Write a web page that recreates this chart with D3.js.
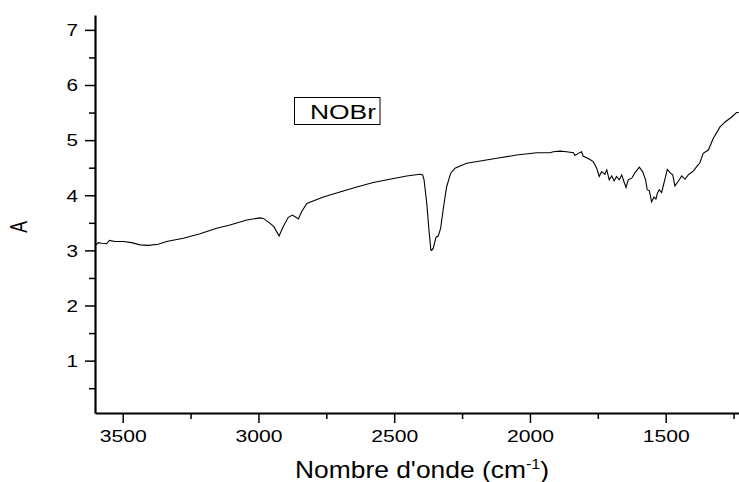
<!DOCTYPE html>
<html lang="fr">
<head>
  <meta charset="UTF-8">
  <title>NOBr - spectre IR</title>
  <script src="https://d3js.org/d3.v7.min.js"></script>
  <style>
    body { margin: 0; background: #fff; }
    text { font-family: "Liberation Sans", Arial, sans-serif; fill: #000; }
    .axis path, .axis line { stroke: #000; }
    .spectrum { fill: none; stroke: #000; stroke-width: 1.1px; }
  </style>
</head>
<body>
  <script>
    // Spectre (nombre d'onde en cm-1, absorbance)
    const wavenumber = [
      3602, 3590, 3577, 3559, 3549, 3528, 3498, 3467, 3436, 3406, 3369, 3338,
      3277, 3215, 3154, 3105, 3043, 2994, 2982, 2957, 2943, 2924, 2909, 2890,
      2875, 2865, 2853, 2841, 2822, 2761, 2700, 2638, 2577, 2516, 2454, 2405,
      2395, 2390, 2380, 2372, 2365, 2362, 2356, 2346, 2338, 2329, 2319, 2307,
      2292, 2276, 2233, 2172, 2110, 2049, 1975, 1926, 1914, 1889, 1865, 1840,
      1834, 1822, 1810, 1804, 1779, 1767, 1754, 1745, 1736, 1724, 1717, 1708,
      1699, 1690, 1681, 1671, 1662, 1654, 1646, 1638, 1625, 1613, 1597, 1585,
      1574, 1568, 1560, 1552, 1543, 1536, 1531, 1524, 1515, 1503, 1494, 1484,
      1474, 1466, 1454, 1441, 1429, 1417, 1398, 1386, 1374, 1362, 1343, 1325,
      1300, 1281, 1257, 1239, 1231
    ];
    const absorbance = [
      3.08, 3.14, 3.13, 3.12, 3.18, 3.16, 3.16, 3.14, 3.10, 3.09, 3.11, 3.16,
      3.22, 3.30, 3.40, 3.46, 3.55, 3.59, 3.58, 3.49, 3.43, 3.26, 3.43, 3.60,
      3.64, 3.61, 3.57, 3.70, 3.85, 3.97, 4.06, 4.15, 4.23, 4.29, 4.35, 4.38,
      4.37, 4.28, 3.85, 3.37, 3.01, 3.00, 3.04, 3.24, 3.26, 3.40, 3.76, 4.15,
      4.40, 4.49, 4.58, 4.63, 4.68, 4.73, 4.77, 4.77, 4.79, 4.80, 4.79, 4.77,
      4.72, 4.76, 4.79, 4.71, 4.65, 4.61, 4.49, 4.34, 4.43, 4.38, 4.46, 4.28,
      4.35, 4.26, 4.34, 4.28, 4.37, 4.25, 4.14, 4.28, 4.31, 4.41, 4.51, 4.43,
      4.28, 4.10, 4.08, 3.88, 3.97, 3.93, 4.03, 4.10, 4.05, 4.29, 4.47, 4.41,
      4.37, 4.17, 4.25, 4.35, 4.29, 4.37, 4.44, 4.52, 4.59, 4.76, 4.82, 5.03,
      5.24, 5.33, 5.42, 5.50, 5.50
    ];
    const xMajor = [3500, 3000, 2500, 2000, 1500];
    const xMinor = [3250, 2750, 2250, 1750, 1250];
    const yMajor = [1, 2, 3, 4, 5, 6, 7];
    const yMinor = [0.5, 1.5, 2.5, 3.5, 4.5, 5.5, 6.5];
    const legendLabel = "NOBr";

    const width = 739, height = 482;
    const mLeft = 95, mRight = 739, mTop = 15, mBottom = 413;

    const svg = d3.select("body").append("svg")
      .attr("width", width)
      .attr("height", height);

    // axe x inversé
    const x = d3.scaleLinear().domain([3602, 1230]).range([mLeft, mRight]);
    const y = d3.scaleLinear().domain([0.05, 7.27]).range([mBottom, mTop]);

    // ticks mineurs d'abord
    svg.append("g")
      .attr("class", "axis")
      .attr("transform", `translate(0,${mBottom})`)
      .call(d3.axisBottom(x).tickValues(xMinor).tickSize(6).tickFormat(""))
      .call(g => g.select(".domain").remove())
      .call(g => g.selectAll("line").attr("stroke-width", 1.5));

    svg.append("g")
      .attr("class", "axis")
      .attr("transform", `translate(${mLeft},0)`)
      .call(d3.axisLeft(y).tickValues(yMinor).tickSize(6).tickFormat(""))
      .call(g => g.select(".domain").remove())
      .call(g => g.selectAll("line").attr("stroke-width", 1.5));

    const xAxis = svg.append("g")
      .attr("class", "axis")
      .attr("transform", `translate(0,${mBottom})`)
      .call(d3.axisBottom(x).tickValues(xMajor).tickSize(10).tickSizeOuter(0).tickFormat(d3.format("d")));
    xAxis.select(".domain").attr("stroke-width", 2.2);
    xAxis.selectAll("line").attr("stroke-width", 1.5);
    xAxis.selectAll("text")
      .attr("y", 28.7).attr("dy", null)
      .style("font-size", "16px")
      .attr("textLength", 47).attr("lengthAdjust", "spacingAndGlyphs");

    const yAxis = svg.append("g")
      .attr("class", "axis")
      .attr("transform", `translate(${mLeft},0)`)
      .call(d3.axisLeft(y).tickValues(yMajor).tickSize(10).tickSizeOuter(0).tickFormat(d3.format("d")));
    yAxis.select(".domain").attr("stroke-width", 2.2);
    yAxis.selectAll("line").attr("stroke-width", 1.5);
    yAxis.selectAll("text")
      .attr("x", -17).attr("dy", "0.36em")
      .style("font-size", "16px")
      .attr("textLength", 11.5).attr("lengthAdjust", "spacingAndGlyphs");

    // spectre
    const points = wavenumber.map((w, i) => [w, absorbance[i]]);
    svg.append("path")
      .datum(points)
      .attr("class", "spectrum")
      .attr("d", d3.line().x(d => x(d[0])).y(d => y(d[1])));

    // légende
    svg.append("rect")
      .attr("x", 294.5).attr("y", 97.5)
      .attr("width", 85.5).attr("height", 27)
      .attr("fill", "#fff").attr("stroke", "#000").attr("stroke-width", 1);
    svg.append("text")
      .attr("x", 310).attr("y", 119.3)
      .style("font-size", "20px")
      .attr("textLength", 66).attr("lengthAdjust", "spacingAndGlyphs")
      .text(legendLabel);

    // titre de l'axe x
    const xTitle = svg.append("text")
      .attr("x", 0).attr("y", 0)
      .style("font-size", "23px");
    xTitle.append("tspan").text("Nombre d'onde (cm");
    xTitle.append("tspan").attr("dy", -9).style("font-size", "14px").text("-1");
    xTitle.append("tspan").attr("dy", 9).text(")");
    const tw = xTitle.node().getBBox().width;
    xTitle.attr("transform", `translate(295,477.7) scale(${254 / tw},1)`);

    // titre de l'axe y
    svg.append("text")
      .attr("text-anchor", "middle")
      .attr("transform", "translate(26.7,227) scale(1.33,1) rotate(-90)")
      .style("font-size", "17.5px")
      .text("A");
  </script>
</body>
</html>
